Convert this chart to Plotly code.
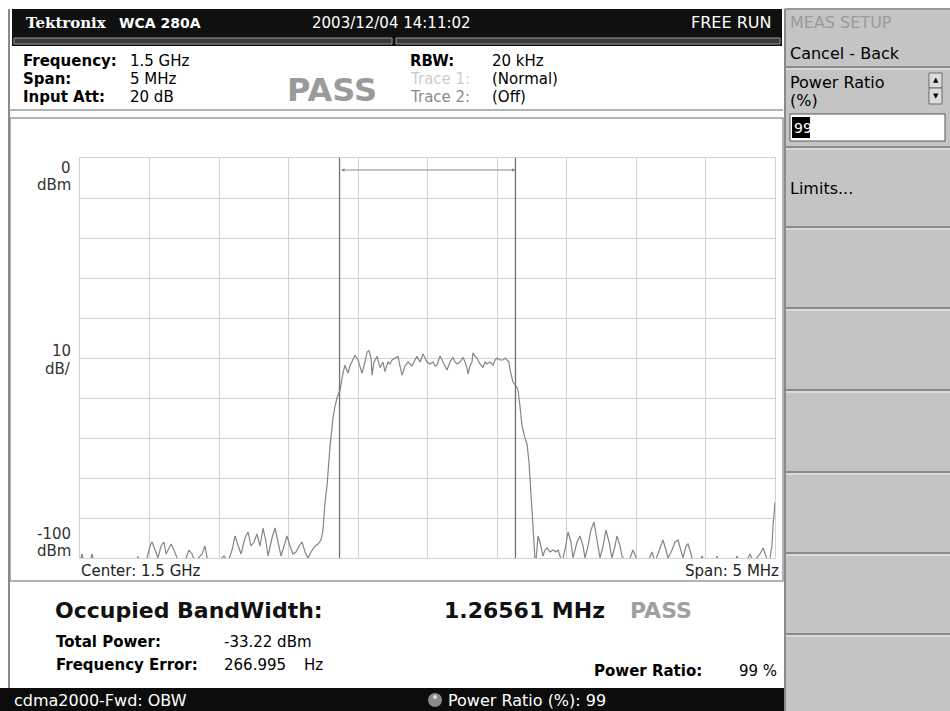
import plotly.graph_objects as go

# spectrum trace, frequency offset from 1.5 GHz centre (MHz) and level (dBm)
freq_offset_mhz = [
    -2.500, -2.486, -2.471, -2.428, -2.414, -2.399, -2.097, -2.083, -2.068, -2.018,
    -1.996, -1.982, -1.960, -1.939, -1.917, -1.896, -1.881, -1.867, -1.845, -1.824,
    -1.802, -1.781, -1.737, -1.716, -1.694, -1.673, -1.622, -1.601, -1.579, -1.493,
    -1.464, -1.435, -1.406, -1.385, -1.363, -1.342, -1.313, -1.291, -1.270, -1.248,
    -1.227, -1.205, -1.183, -1.162, -1.147, -1.119, -1.097, -1.076, -1.054, -1.032,
    -1.011, -0.989, -0.968, -0.946, -0.924, -0.903, -0.881, -0.860, -0.838, -0.809,
    -0.788, -0.766, -0.752, -0.737, -0.723, -0.701, -0.680, -0.665, -0.651, -0.629,
    -0.615, -0.608, -0.594, -0.572, -0.558, -0.543, -0.522, -0.500, -0.486, -0.471,
    -0.450, -0.435, -0.421, -0.406, -0.399, -0.385, -0.363, -0.342, -0.320, -0.306,
    -0.284, -0.270, -0.255, -0.234, -0.212, -0.198, -0.183, -0.162, -0.140, -0.126,
    -0.112, -0.090, -0.076, -0.054, -0.032, -0.018, -0.004, 0.018, 0.040, 0.054,
    0.068, 0.090, 0.112, 0.126, 0.140, 0.162, 0.183, 0.198, 0.212, 0.234,
    0.255, 0.270, 0.284, 0.291, 0.306, 0.320, 0.327, 0.342, 0.356, 0.378,
    0.399, 0.414, 0.428, 0.450, 0.471, 0.486, 0.500, 0.522, 0.543, 0.558,
    0.572, 0.586, 0.594, 0.615, 0.637, 0.651, 0.665, 0.680, 0.701, 0.716,
    0.730, 0.737, 0.752, 0.759, 0.773, 0.781, 0.795, 0.809, 0.831, 0.845,
    0.860, 0.881, 0.903, 0.924, 0.939, 0.953, 0.968, 0.989, 1.011, 1.032,
    1.047, 1.076, 1.097, 1.119, 1.133, 1.155, 1.176, 1.198, 1.219, 1.241,
    1.263, 1.284, 1.306, 1.327, 1.349, 1.363, 1.385, 1.399, 1.428, 1.457,
    1.478, 1.500, 1.514, 1.586, 1.615, 1.637, 1.673, 1.694, 1.716, 1.730,
    1.759, 1.781, 1.802, 1.824, 1.838, 1.860, 1.874, 1.896, 1.910, 1.960,
    1.975, 1.996, 2.076, 2.083, 2.097, 2.212, 2.227, 2.241, 2.306, 2.320,
    2.342, 2.392, 2.414, 2.435, 2.450, 2.464, 2.478, 2.486, 2.493, 2.500,
]
level_dbm = [
    -101, -99, -101, -101, -99, -101, -101, -99.6, -101, -100,
    -97, -96, -98, -100, -97, -96, -99, -98, -96.5, -98,
    -100, -101, -100, -98, -99, -101, -99, -97, -101, -100.5,
    -99.5, -101, -98, -94.5, -97, -99, -95, -93.5, -97, -96,
    -94, -97, -92.5, -96, -99.5, -95, -92.5, -96, -99.5, -97,
    -94.5, -97, -99, -98.5, -97, -96, -98.5, -100, -98.5, -97,
    -96.5, -95.5, -93, -86, -82, -72, -65, -62, -60, -58,
    -55, -53.8, -51.8, -53.8, -52, -51, -49.3, -50.5, -52, -53.8,
    -51, -48.5, -48.2, -50, -54.3, -51, -49.6, -52.4, -51, -53.4,
    -51, -51.5, -50.5, -50, -49.6, -52, -54.3, -52, -51, -51.5,
    -52, -50.5, -49.6, -51, -49, -50, -51, -51.5, -51, -52,
    -51.8, -49.5, -51, -52, -53, -51, -49.8, -51, -51.5, -51,
    -49.8, -51, -52.5, -54, -52, -51, -48.7, -49.5, -50, -51.5,
    -52.4, -51, -51.5, -51, -51.8, -50.5, -50, -50.5, -50.5, -50,
    -50.5, -51, -53, -56, -57, -58, -62, -67, -70, -71.5,
    -76, -80, -88, -93, -100, -100.5, -94.5, -96, -99.5, -98,
    -97.5, -98.5, -98, -98.5, -98, -99.5, -101, -98, -93.5, -96,
    -100, -96, -94.5, -97, -100, -97, -93, -91, -95, -100,
    -97, -93, -96, -100, -97, -94.5, -97, -99.5, -101, -100,
    -98, -100, -101, -101, -98.5, -101, -97.5, -95.5, -98, -100,
    -98, -96, -95.5, -98, -100, -97, -96.5, -99, -101, -101,
    -99.5, -101, -101, -99.5, -101, -101, -99.5, -101, -100, -99,
    -101, -99, -97.5, -99.5, -101, -100, -97, -92, -88, -86,
]

obw_mhz = 1.26561
span_mhz = 5
ref_level_dbm = 0
scale_db_div = 10

FONT = "DejaVu Sans"
W, H = 950, 711


def px(x):
    return x / W


def py(y):
    return 1 - y / H


shapes = []
annotations = []


def rect(x0, y0, x1, y1, fill, line=None, width=1):
    shapes.append(dict(type="rect", xref="paper", yref="paper",
                       x0=px(x0), x1=px(x1), y0=py(y1), y1=py(y0),
                       fillcolor=fill, layer="below",
                       line=dict(color=line or fill, width=width if line else 0)))


def hline(x0, x1, y, color, width=1):
    shapes.append(dict(type="line", xref="paper", yref="paper",
                       x0=px(x0), x1=px(x1), y0=py(y), y1=py(y),
                       line=dict(color=color, width=width)))


def vline(x, y0, y1, color, width=1):
    shapes.append(dict(type="line", xref="paper", yref="paper",
                       x0=px(x), x1=px(x), y0=py(y0), y1=py(y1),
                       line=dict(color=color, width=width)))


def text(s, x, y, size=15, color="#000000", anchor="left", family=FONT, bold=False):
    if bold:
        s = "<b>" + s + "</b>"
    annotations.append(dict(text=s, x=px(x), y=py(y), xref="paper", yref="paper",
                            xanchor=anchor, yanchor="middle", showarrow=False,
                            font=dict(family=family, size=size, color=color)))


fig = go.Figure()

fig.add_trace(go.Scatter(
    x=freq_offset_mhz, y=level_dbm, mode="lines",
    line=dict(color="#858585", width=1.2), hoverinfo="skip",
))

# --- header bar
rect(12, 9, 782, 46, "#101010")
rect(14, 38, 392, 44, "#3a3a3a", "#9a9a9a")
rect(396, 38, 780, 44, "#3a3a3a", "#9a9a9a")
text("Tektronix", 24, 23, 15, "#ffffff", family="DejaVu Serif", bold=True)
text("WCA 280A", 117, 23, 14, "#ffffff", bold=True)
text("2003/12/04 14:11:02", 310, 23, 15, "#ffffff")
text("FREE RUN", 773, 23, 16, "#ffffff", anchor="right")

# --- settings area
vline(9, 9, 688, "#8a8a8a", 2)
text("Frequency:", 21, 61, 15, bold=True)
text("1.5 GHz", 128, 61, 15)
text("Span:", 21, 79, 15, bold=True)
text("5 MHz", 128, 79, 15)
text("Input Att:", 21, 97, 15, bold=True)
text("20 dB", 128, 97, 15)
text("PASS", 332, 90, 32, "#9a9a9a", anchor="center", bold=True)
text("RBW:", 408, 61, 15, bold=True)
text("20 kHz", 490, 61, 15)
text("Trace 1:", 408, 79, 15, "#cccccc")
text("(Normal)", 490, 79, 15)
text("Trace 2:", 408, 97, 15, "#8c8c8c")
text("(Off)", 490, 97, 15)
hline(9, 783, 110, "#9a9a9a", 1.5)

# --- plot frame and bottom labels inside it
rect(10, 118, 783, 581, "rgba(0,0,0,0)", "#9a9a9a", 1.5)
text("0", 73, 168, 15, "#333333", anchor="right")
text("dBm", 73, 185, 15, "#333333", anchor="right")
text("10", 73, 351, 15, "#333333", anchor="right")
text("dB/", 73, 369, 15, "#333333", anchor="right")
text("-100", 73, 534, 15, "#333333", anchor="right")
text("dBm", 73, 551, 15, "#333333", anchor="right")
text("Center: 1.5 GHz", 79, 571, 15, "#222222")
text("Span: 5 MHz", 781, 571, 15, "#222222", anchor="right")

# --- results
text("Occupied BandWidth:", 53, 610, 22, "#111111", bold=True)
text("1.26561 MHz", 442, 610, 22, "#111111", bold=True)
text("PASS", 628, 610, 22, "#a0a0a0", bold=True)
text("Total Power:", 54, 642, 15, bold=True)
text("-33.22 dBm", 222, 642, 15)
text("Frequency Error:", 54, 665, 15, bold=True)
text("266.995", 222, 665, 15)
text("Hz", 302, 665, 15)
text("Power Ratio:", 592, 671, 15, bold=True)
text("99 %", 779, 671, 15, anchor="right")

# --- status bar
rect(0, 688, 784, 711, "#0c0c0c")
text("cdma2000-Fwd: OBW", 12, 700, 16, "#ffffff")
shapes.append(dict(type="circle", xref="paper", yref="paper",
                   x0=px(428), x1=px(442), y0=py(707), y1=py(693),
                   fillcolor="#8a8a8a", line=dict(width=0)))
shapes.append(dict(type="circle", xref="paper", yref="paper",
                   x0=px(433), x1=px(437), y0=py(699), y1=py(695),
                   fillcolor="#e0e0e0", line=dict(width=0)))
text("Power Ratio (%): 99", 446, 700, 16, "#ffffff")

# --- right side menu
rect(784, 0, 950, 711, "#c4c4c4")
vline(785, 9, 711, "#8a8a8a", 2)
rect(784, 0, 950, 8, "#ffffff")
hline(786, 950, 9, "#8a8a8a", 1.5)
text("MEAS SETUP", 788, 23, 16, "#9a9a9a")
text("Cancel - Back", 788, 53, 16, "#000000")
hline(786, 950, 67, "#8a8a8a", 2)
hline(786, 950, 69, "#f0f0f0", 1)
text("Power Ratio", 788, 82, 16, "#000000")
text("(%)", 788, 100, 16, "#000000")
rect(929, 73, 942, 88, "#dcdcdc", "#6a6a6a")
rect(929, 88, 942, 104, "#dcdcdc", "#6a6a6a")
text("▲", 935.5, 80, 7, "#000000", anchor="center")
text("▼", 935.5, 96, 7, "#000000", anchor="center")
rect(790, 114, 945, 141, "#ffffff", "#555555")
rect(792, 117, 810, 138, "#000000")
text("99", 792, 128, 14, "#ffffff")
hline(786, 950, 147, "#8a8a8a", 2)
hline(786, 950, 149, "#f0f0f0", 1)
text("Limits...", 788, 189, 16, "#000000")
for sep in [227, 308, 390, 472, 553, 634]:
    hline(786, 950, sep, "#8a8a8a", 2)
    hline(786, 950, sep + 2, "#f0f0f0", 1)

# --- OBW markers and arrow
for edge in [-obw_mhz / 2, obw_mhz / 2]:
    shapes.append(dict(type="line", xref="x", yref="y", x0=edge, x1=edge,
                       y0=-100, y1=0, line=dict(color="#707070", width=1.3)))
annotations.append(dict(x=obw_mhz / 2, y=-3, ax=-obw_mhz / 2, ay=-3,
                        xref="x", yref="y", axref="x", ayref="y",
                        text="", showarrow=True, arrowhead=2, startarrowhead=2,
                        arrowside="end+start", arrowsize=0.7, arrowwidth=1,
                        arrowcolor="#8a8a8a"))

fig.update_layout(
    width=W, height=H, autosize=False,
    margin=dict(l=0, r=0, t=0, b=0),
    paper_bgcolor="#ffffff", plot_bgcolor="#ffffff",
    showlegend=False,
    shapes=shapes, annotations=annotations,
    xaxis=dict(domain=[px(80), px(775)], range=[-span_mhz / 2, span_mhz / 2],
               tick0=-span_mhz / 2, dtick=span_mhz / 10,
               showgrid=True, gridcolor="#d2d2d2", gridwidth=1,
               showline=True, mirror=True, linecolor="#d2d2d2", linewidth=1,
               zeroline=False, showticklabels=False, ticks="", fixedrange=True),
    yaxis=dict(domain=[py(558), py(158)],
               range=[ref_level_dbm - 10 * scale_db_div, ref_level_dbm],
               tick0=0, dtick=scale_db_div,
               showgrid=True, gridcolor="#d2d2d2", gridwidth=1,
               showline=True, mirror=True, linecolor="#d2d2d2", linewidth=1,
               zeroline=False, showticklabels=False, ticks="", fixedrange=True),
)

fig.write_html("out.html", config={"displayModeBar": False},
               post_script="document.body.style.margin='0';")
